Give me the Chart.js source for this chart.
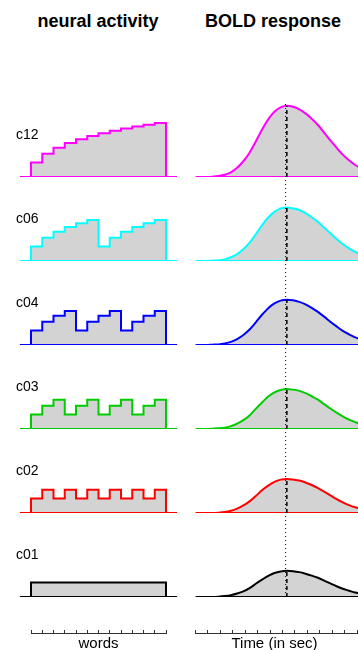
<!DOCTYPE html>
<html>
<head>
<meta charset="utf-8">
<title>neural activity / BOLD response</title>
<script src="https://cdn.jsdelivr.net/npm/chart.js@4.4.1/dist/chart.umd.min.js"></script>
<style>
  html, body { margin: 0; padding: 0; background: #fff; overflow: hidden; }
  #wrap { position: relative; width: 358px; height: 650px; overflow: hidden; background: #fff; }
  #wrap canvas { position: absolute; }
  .head {
    position: absolute; width: 200px; text-align: center;
    font: bold 18px "Liberation Sans", Arial, sans-serif; line-height: 18px; color: #000;
    top: 12px; white-space: nowrap;
  }
</style>
</head>
<body>
<div id="wrap">
  <div class="head" style="left:-2px">neural activity</div>
  <div class="head" style="left:173px">BOLD response</div>
</div>
<script>
// Conditions, top to bottom, and their line colours
const rowNames  = ['c12', 'c06', 'c04', 'c03', 'c02', 'c01'];
const rowColors = ['#ff00ff', '#00ffff', '#0000ff', '#00cd00', '#ff0000', '#000000'];

// Neural activity per word (12 words per sentence)
const neuralC12 = [0.69, 1.10, 1.39, 1.61, 1.79, 1.95, 2.08, 2.20, 2.30, 2.40, 2.48, 2.56];
const neuralC06 = [0.69, 1.10, 1.39, 1.61, 1.79, 1.95, 0.69, 1.10, 1.39, 1.61, 1.79, 1.95];
const neuralC04 = [0.69, 1.10, 1.39, 1.61, 0.69, 1.10, 1.39, 1.61, 0.69, 1.10, 1.39, 1.61];
const neuralC03 = [0.69, 1.10, 1.39, 0.69, 1.10, 1.39, 0.69, 1.10, 1.39, 0.69, 1.10, 1.39];
const neuralC02 = [0.69, 1.10, 0.69, 1.10, 0.69, 1.10, 0.69, 1.10, 0.69, 1.10, 0.69, 1.10];
const neuralC01 = [0.69, 0.69, 0.69, 0.69, 0.69, 0.69, 0.69, 0.69, 0.69, 0.69, 0.69, 0.69];

// BOLD response sampled in time (seconds)
const boldTimes = [0, 0.35, 0.85, 1.35, 1.85, 2.35, 2.85, 3.35, 3.85, 4.35, 4.85, 5.35, 5.85, 6.35, 6.85,
                   7.35, 7.85, 8.35, 8.85, 9.35, 9.85, 10.35, 10.85, 11.35, 11.85, 12.35, 12.85, 13.35, 13.85, 14.35];
const boldC12 = [0, 0, 0, 0.1, 0.3, 0.7, 1.5, 2.9, 5.0, 7.7, 11.3, 15.0, 18.3, 20.7, 22.1,
                 22.6, 22.3, 21.5, 20.2, 18.5, 16.5, 14.1, 11.6, 9.3, 7.1, 5.3, 3.8, 2.7, 1.9, 1.3];
const boldC06 = [0, 0, 0, 0.1, 0.2, 0.5, 1.2, 2.2, 3.7, 5.8, 8.5, 11.3, 13.8, 15.6, 16.7,
                 17.0, 16.7, 16.2, 15.2, 13.9, 12.4, 10.6, 8.8, 7.0, 5.4, 4.0, 2.9, 2.0, 1.4, 1.0];
const boldC04 = [0, 0, 0, 0.1, 0.2, 0.5, 1.0, 1.9, 3.2, 4.9, 7.2, 9.6, 11.7, 13.2, 14.1,
                 14.4, 14.2, 13.7, 12.9, 11.8, 10.5, 9.0, 7.4, 5.9, 4.5, 3.4, 2.4, 1.7, 1.2, 0.8];
const boldC03 = [0, 0, 0, 0.1, 0.2, 0.4, 0.9, 1.7, 2.8, 4.3, 6.4, 8.4, 10.3, 11.6, 12.4,
                 12.7, 12.5, 12.1, 11.4, 10.4, 9.3, 7.9, 6.5, 5.2, 4.0, 3.0, 2.2, 1.5, 1.1, 0.7];
const boldC02 = [0, 0, 0, 0, 0.1, 0.3, 0.7, 1.4, 2.4, 3.7, 5.4, 7.2, 8.7, 9.9, 10.6,
                 10.8, 10.6, 10.3, 9.7, 8.9, 7.9, 6.8, 5.6, 4.4, 3.4, 2.5, 1.8, 1.3, 0.9, 0.6];
const boldC01 = [0, 0, 0, 0, 0.1, 0.3, 0.6, 1.1, 1.8, 2.8, 4.2, 5.5, 6.7, 7.6, 8.1,
                 8.3, 8.2, 7.9, 7.4, 6.8, 6.1, 5.2, 4.3, 3.4, 2.6, 2.0, 1.4, 1.0, 0.7, 0.5];

// Common reference time (dotted line)
const refTime = 7.25;

// Axis ticks: word boundaries and seconds
const wordTicks = [0, 12];
const timeTicks = [0, 14];

const neuralRows = [neuralC12, neuralC06, neuralC04, neuralC03, neuralC02, neuralC01];
const boldRows   = [boldC12, boldC06, boldC04, boldC03, boldC02, boldC01];

// ---- layout ----
const ROW_BASE = [177, 261, 345, 429, 513, 597];   // baseline of each row (px)
const PANEL_H = 84, BELOW = 4;
const FILL = '#d3d3d3';
const FONT = '"Liberation Sans", Arial, sans-serif';
const wrap = document.getElementById('wrap');

function makeCanvas(left, top, w, h) {
  const c = document.createElement('canvas');
  c.width = w; c.height = h;
  c.style.left = left + 'px'; c.style.top = top + 'px';
  c.style.width = w + 'px'; c.style.height = h + 'px';
  wrap.appendChild(c);
  return c;
}

const baseOpts = {
  responsive: false, animation: false, events: [],
  plugins: { legend: { display: false }, tooltip: { enabled: false }, title: { display: false } },
  elements: { point: { radius: 0 }, line: { tension: 0 } }
};

// left column geometry: word -1..13, words 0..12 span x 31..166
const L = { left: 0, width: 180, padL: 19.75, padR: 2.75, xmin: -1, xmax: 13 };
// right column geometry: 0..14 s starting at x 195.5, 12.43 px per s
const R = { left: 180, width: 200, padL: 15.5, padR: 10.5, xmin: 0, xmax: 14 };
const NEURAL_MAX = 3.8, BOLD_MAX = 25.4;

rowNames.forEach((name, r) => {
  const color = rowColors[r];
  const top = ROW_BASE[r] - (PANEL_H - BELOW);

  // neural activity: step function over the 12 words
  const vals = neuralRows[r];
  const steps = [{ x: -1, y: 0 }].concat(vals.map((v, i) => ({ x: i, y: v })),
                 [{ x: vals.length, y: 0 }, { x: vals.length + 1, y: 0 }]);
  new Chart(makeCanvas(L.left, top, L.width, PANEL_H), {
    type: 'line',
    data: { datasets: [
      { data: steps, stepped: 'before', borderColor: color, borderWidth: 2,
        backgroundColor: FILL, fill: 'origin', order: 1 },
      { data: [{ x: L.xmin, y: 0 }, { x: L.xmax, y: 0 }], borderColor: color, borderWidth: 2,
        fill: false, order: 0 }
    ] },
    options: Object.assign({}, baseOpts, {
      layout: { padding: { left: L.padL, right: L.padR, top: 0, bottom: BELOW } },
      scales: {
        x: { type: 'linear', display: false, min: L.xmin, max: L.xmax },
        y: { type: 'linear', display: false, min: 0, max: NEURAL_MAX }
      }
    }),
    plugins: [{
      id: 'rowLabel',
      afterDraw(chart) {
        const ctx = chart.ctx;
        ctx.save();
        ctx.font = '14px ' + FONT;
        ctx.fillStyle = '#000';
        ctx.textBaseline = 'alphabetic';
        ctx.textAlign = 'left';
        ctx.fillText(name, 16, chart.chartArea.bottom - 38);
        ctx.restore();
      }
    }]
  });

  // BOLD response: smooth curve, filled, with dashed line at its maximum
  const bold = boldRows[r];
  const curve = boldTimes.map((t, i) => ({ x: t, y: bold[i] }));
  const peak = Math.max.apply(null, bold);
  const peakT = boldTimes[bold.indexOf(peak)];
  new Chart(makeCanvas(R.left, top, R.width, PANEL_H), {
    type: 'line',
    data: { datasets: [
      { data: [{ x: peakT, y: 0 }, { x: peakT, y: peak }], borderColor: '#000',
        borderWidth: 1.5, borderDash: [4, 3], fill: false, order: 0 },
      { data: [{ x: R.xmin, y: 0 }, { x: R.xmax, y: 0 }], borderColor: color, borderWidth: 2,
        fill: false, order: 1 },
      { data: curve, cubicInterpolationMode: 'monotone', borderColor: color, borderWidth: 2,
        backgroundColor: FILL, fill: 'origin', order: 2 }
    ] },
    options: Object.assign({}, baseOpts, {
      layout: { padding: { left: R.padL, right: R.padR, top: 0, bottom: BELOW } },
      scales: {
        x: { type: 'linear', display: false, min: R.xmin, max: R.xmax },
        y: { type: 'linear', display: false, min: 0, max: BOLD_MAX }
      }
    })
  });
});

// dotted reference line through all BOLD panels
new Chart(makeCanvas(R.left, 100, R.width, 500), {
  type: 'line',
  data: { datasets: [
    { data: [{ x: refTime, y: 0 }, { x: refTime, y: 1 }], borderColor: '#000', borderWidth: 1,
      borderDash: [1, 3], fill: false }
  ] },
  options: Object.assign({}, baseOpts, {
    layout: { padding: { left: R.padL, right: R.padR, top: 4, bottom: 3 } },
    scales: {
      x: { type: 'linear', display: false, min: R.xmin, max: R.xmax },
      y: { type: 'linear', display: false, min: 0, max: 1 }
    }
  })
});

// bottom axes: inward tick marks and a centred label
function bottomAxis(geo, ticks, label, padL, padR, labelX) {
  new Chart(makeCanvas(geo.left, 620, geo.width, 30), {
    type: 'line',
    data: { datasets: [] },
    options: Object.assign({}, baseOpts, {
      layout: { padding: { left: padL, right: padR, top: 10, bottom: 17 } },
      scales: {
        x: {
          type: 'linear', position: 'bottom', min: ticks[0], max: ticks[1],
          ticks: { display: false, stepSize: 1 },
          grid: { display: true, drawOnChartArea: true, drawTicks: false, color: '#333', lineWidth: 1 },
          border: { display: true, color: '#333', width: 1 },
          title: { display: false }
        },
        y: { display: false, min: 0, max: 1 }
      }
    }),
    plugins: [{
      id: 'axisLabel',
      afterDraw(chart) {
        const ctx = chart.ctx;
        ctx.save();
        ctx.font = '15px ' + FONT;
        ctx.fillStyle = '#000';
        ctx.textAlign = 'center';
        ctx.textBaseline = 'alphabetic';
        ctx.fillText(label, labelX - geo.left, 27.5);
        ctx.restore();
      }
    }]
  });
}
bottomAxis(L, wordTicks, 'words', 31, 14, 98.5);
bottomAxis(R, timeTicks, 'Time (in sec)', R.padL, R.padR, 274.5);
</script>
</body>
</html>
